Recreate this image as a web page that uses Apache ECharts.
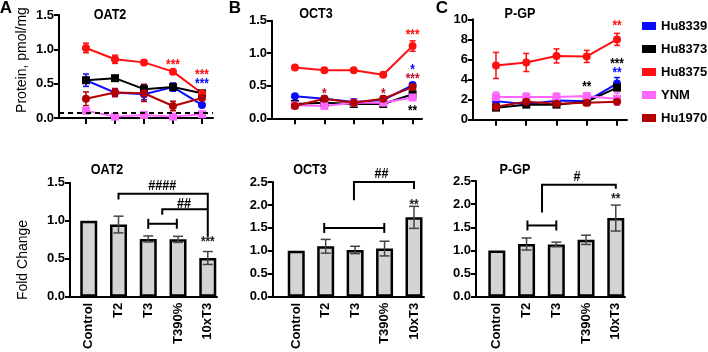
<!DOCTYPE html>
<html>
<head>
<meta charset="utf-8">
<script src="https://cdn.jsdelivr.net/npm/echarts@6/dist/echarts.min.js"></script>
<style>
html, body { margin: 0; padding: 0; background: #fff; }
#chart { width: 708px; height: 352px; }
</style>
</head>
<body>
<div id="chart"></div>
<script>
// ---- data ----
const categories = ['Control', 'T2', 'T3', 'T390%', '10xT3'];
const strains = ['Hu8339', 'Hu8373', 'Hu8375', 'YNM', 'Hu1970'];
const strainColors = ['#0a0aff', '#000000', '#ff1010', '#ff66ff', '#b30000'];

// protein, pmol/mg (rows follow strains)
const oat2Mean = [
  [0.55, 0.37, 0.345, 0.45, 0.19],
  [0.55, 0.58, 0.42, 0.45, 0.36],
  [1.02, 0.855, 0.81, 0.675, 0.36],
  [0.105, 0.02, 0.045, 0.02, 0.055],
  [0.28, 0.37, 0.36, 0.175, 0.29]
];
const oat2Err = [
  [0.09, 0.04, 0.08, 0.06, 0.02],
  [0.03, 0.02, 0.07, 0.03, 0.02],
  [0.07, 0.06, 0.03, 0.02, 0.02],
  [0.04, 0.01, 0.01, 0.01, 0.01],
  [0.1, 0.06, 0.12, 0.07, 0.02]
];
const oct3Mean = [
  [0.34, 0.30, 0.25, 0.28, 0.51],
  [0.22, 0.24, 0.22, 0.22, 0.37],
  [0.78, 0.74, 0.74, 0.67, 1.11],
  [0.20, 0.19, 0.24, 0.24, 0.32],
  [0.19, 0.30, 0.24, 0.30, 0.48]
];
const oct3Err = [
  [0.02, 0.04, 0.05, 0.03, 0.03],
  [0.02, 0.02, 0.02, 0.02, 0.03],
  [0.02, 0.02, 0.02, 0.02, 0.08],
  [0.02, 0.03, 0.02, 0.02, 0.03],
  [0.02, 0.03, 0.02, 0.04, 0.03]
];
const pgpMean = [
  [1.85, 1.55, 1.9, 1.85, 3.6],
  [1.2, 1.5, 1.5, 1.8, 3.2],
  [5.4, 5.7, 6.35, 6.3, 8.0],
  [2.25, 2.25, 2.25, 2.35, 2.05],
  [1.3, 1.8, 1.6, 1.7, 1.8]
];
const pgpErr = [
  [0.3, 0.2, 0.3, 0.2, 0.6],
  [0.2, 0.2, 0.2, 0.2, 0.3],
  [1.3, 0.9, 0.7, 0.6, 0.6],
  [0.5, 0.4, 0.4, 0.3, 0.6],
  [0.2, 0.3, 0.2, 0.3, 0.2]
];
const oat2Lloq = 0.08;

// fold change
const oat2Fold = [1.0, 0.95, 0.76, 0.755, 0.51];
const oat2FoldErr = [0, 0.11, 0.04, 0.04, 0.085];
const oct3Fold = [1.0, 1.1, 1.02, 1.05, 1.73];
const oct3FoldErr = [0, 0.15, 0.08, 0.16, 0.24];
const pgpFold = [1.0, 1.14, 1.13, 1.23, 1.70];
const pgpFoldErr = [0, 0.13, 0.05, 0.1, 0.28];

// significance marks: [category, value, text, color]
const oat2Marks = [[3, 0.81, '***', '#ff1010'], [4, 0.665, '***', '#ff1010'], [4, 0.54, '***', '#0a0aff']];
const oct3Marks = [[1, 0.42, '*', '#c01030'], [3, 0.42, '*', '#c01030'], [4, 1.33, '***', '#ff1010'],
  [4, 0.79, '*', '#0a0aff'], [4, 0.65, '***', '#c01030'], [4, 0.16, '**', '#000']];
const pgpMarks = [[3, 3.5, '**', '#000'], [4, 9.6, '**', '#ff1010'], [4, 5.8, '***', '#000'], [4, 4.9, '**', '#0a0aff']];
const oat2FoldMarks = [[4, 0.76, '***', '#222'], [2.47, 1.46, '####', '#000'], [3.2, 1.22, '##', '#000']];
const oct3FoldMarks = [[4, 2.07, '**', '#222'], [2.9, 2.67, '##', '#000']];
const pgpFoldMarks = [[4, 2.17, '**', '#222'], [2.7, 2.6, '#', '#000']];

// brackets: [x1, x2, y, leftEnd, rightEnd]
const oat2Brackets = [[1, 4, 1.355, 1.28, 0.79], [2.47, 4, 1.15, 1.08, 1.15]];
const oct3Brackets = [[1.96, 4, 2.5, 2.1, 2.35]];
const pgpBrackets = [[1.52, 4, 2.42, 1.82, 2.33]];
// capped brackets: [x1, x2, y]
const oat2Caps = [[2, 2.96, 0.96]];
const oct3Caps = [[0.95, 2.99, 1.5]];
const pgpCaps = [[1.03, 2.0, 1.54]];

// ---- layout ----
const fontBold = "'Liberation Sans',Arial,sans-serif";
const fontReg = "'Liberation Sans',Arial,sans-serif";
const narrow = 0.84; // the figure uses a condensed face, squeeze free text to match

const grids = [
  { left: 59, top: 15, width: 154, height: 103 },
  { left: 272, top: 20.7, width: 150, height: 97.6 },
  { left: 473, top: 19.3, width: 154, height: 100.4 },
  { left: 70, top: 182.7, width: 147, height: 117.3 },
  { left: 272.7, top: 182, width: 151.3, height: 117.3 },
  { left: 476, top: 181, width: 149, height: 117.3 }
];
const xRange = [[-0.93, 4.38], [-0.78, 4.32], [-0.76, 4.33], [-0.63, 4.31], [-0.80, 4.34], [-0.70, 4.31]];
const yRange = [[0, 1.5, 0.5], [0, 1.5, 0.5], [0, 10, 2], [0, 1.5, 0.5], [0, 2.5, 0.5], [0, 2.5, 0.5]];
const strainSymbols = ['circle', 'square', 'circle', 'square', 'circle'];

const axisLineStyle = { color: '#000', width: 2 };
const idx = categories.map((c, i) => i);

const xAxes = grids.map((g, i) => {
  const top = i < 3;
  return {
    gridIndex: i, type: 'value', min: xRange[i][0], max: xRange[i][1],
    axisLine: { show: true, onZero: false, lineStyle: axisLineStyle },
    axisTick: { show: top, length: 6, lineStyle: axisLineStyle, customValues: idx },
    axisLabel: top ? { show: false } : {
      show: true, customValues: idx, rotate: 90, margin: 6,
      formatter: v => categories[Math.round(v)],
      fontFamily: fontBold, fontWeight: 'bold', fontSize: 13, color: '#000'
    },
    splitLine: { show: false }
  };
});
const yAxes = grids.map((g, i) => ({
  gridIndex: i, type: 'value', min: yRange[i][0], max: yRange[i][1], interval: yRange[i][2],
  axisLine: { show: true, onZero: false, lineStyle: axisLineStyle },
  axisTick: { show: true, length: 5, lineStyle: axisLineStyle },
  axisLabel: {
    margin: 5, fontFamily: fontBold, fontWeight: 'bold', fontSize: 13, color: '#000',
    formatter: v => (i === 2 ? String(v) : v.toFixed(1))
  },
  splitLine: { show: false }
}));

// error bar drawing
function errRender(capW, width) {
  return function (params, api) {
    const x = api.value(0);
    const lo = api.coord([x, api.value(1)]);
    const hi = api.coord([x, api.value(2)]);
    const style = { stroke: api.visual('color'), lineWidth: width };
    return {
      type: 'group', children: [
        { type: 'line', shape: { x1: lo[0], y1: lo[1], x2: hi[0], y2: hi[1] }, style },
        { type: 'line', shape: { x1: lo[0] - capW, y1: lo[1], x2: lo[0] + capW, y2: lo[1] }, style },
        { type: 'line', shape: { x1: hi[0] - capW, y1: hi[1], x2: hi[0] + capW, y2: hi[1] }, style }
      ]
    };
  };
}

function markSeries(gi, marks) {
  return {
    type: 'custom', xAxisIndex: gi, yAxisIndex: gi, z: 10, silent: true,
    data: marks.map(m => [m[0], m[1]]),
    renderItem: (params, api) => {
      const m = marks[params.dataIndex];
      const p = api.coord([m[0], m[1]]);
      const star = m[2].indexOf('*') >= 0;
      return {
        type: 'text', x: p[0], y: p[1] + (star ? 3 : 0), scaleX: narrow,
        style: {
          text: m[2], fill: m[3], align: 'center', verticalAlign: 'middle',
          font: 'bold ' + (star ? 14 : 15) + 'px ' + fontBold
        }
      };
    }
  };
}

function bracketSeries(gi, brackets, caps) {
  const rows = brackets.map(b => ['b'].concat(b)).concat(caps.map(c => ['c'].concat(c)));
  return {
    type: 'custom', xAxisIndex: gi, yAxisIndex: gi, z: 9, silent: true,
    data: rows.map(r => [r[1], r[3]]),
    renderItem: (params, api) => {
      const r = rows[params.dataIndex];
      const style = { stroke: '#000', lineWidth: 2, fill: null };
      const a = api.coord([r[1], r[3]]);
      const b = api.coord([r[2], r[3]]);
      if (r[0] === 'b') {
        const l = api.coord([r[1], r[4]]);
        const e = api.coord([r[2], r[5]]);
        return { type: 'polyline', shape: { points: [[l[0], l[1]], a, b, [e[0], e[1]]] }, style };
      }
      return {
        type: 'group', children: [
          { type: 'line', shape: { x1: a[0], y1: a[1], x2: b[0], y2: b[1] }, style },
          { type: 'line', shape: { x1: a[0], y1: a[1] - 5, x2: a[0], y2: a[1] + 5 }, style },
          { type: 'line', shape: { x1: b[0], y1: b[1] - 5, x2: b[0], y2: b[1] + 5 }, style }
        ]
      };
    }
  };
}

const series = [];
const topSets = [[oat2Mean, oat2Err], [oct3Mean, oct3Err], [pgpMean, pgpErr]];
topSets.forEach((set, gi) => {
  strains.forEach((name, s) => {
    series.push({
      type: 'custom', name: name, xAxisIndex: gi, yAxisIndex: gi, silent: true,
      itemStyle: { color: strainColors[s] },
      renderItem: errRender(3, 1.5),
      data: idx.map(i => [i, set[0][s][i] - set[1][s][i], set[0][s][i] + set[1][s][i]])
    });
    series.push({
      type: 'line', name: name, xAxisIndex: gi, yAxisIndex: gi,
      symbol: strainSymbols[s], symbolSize: 8,
      itemStyle: { color: strainColors[s] },
      lineStyle: { color: strainColors[s], width: 2 },
      data: idx.map(i => [i, set[0][s][i]]),
      markLine: (gi === 0 && s === 1) ? {
        silent: true, symbol: 'none', label: { show: false },
        lineStyle: { color: '#000', type: [5, 4], width: 1.8 },
        data: [{ yAxis: oat2Lloq }]
      } : undefined
    });
  });
});

const foldSets = [[oat2Fold, oat2FoldErr], [oct3Fold, oct3FoldErr], [pgpFold, pgpFoldErr]];
foldSets.forEach((set, k) => {
  const gi = k + 3;
  series.push({
    type: 'bar', xAxisIndex: gi, yAxisIndex: gi, barWidth: 17,
    itemStyle: { color: '#d4d4d4', borderColor: '#000', borderWidth: 2.5 },
    data: idx.map(i => [i, set[0][i]])
  });
  series.push({
    type: 'custom', xAxisIndex: gi, yAxisIndex: gi, z: 5, silent: true,
    itemStyle: { color: '#444' },
    renderItem: errRender(5, 1.5),
    data: idx.filter(i => set[1][i] > 0).map(i => [i, set[0][i] - set[1][i], set[0][i] + set[1][i]])
  });
});

series.push(markSeries(0, oat2Marks), markSeries(1, oct3Marks), markSeries(2, pgpMarks));
series.push(markSeries(3, oat2FoldMarks), markSeries(4, oct3FoldMarks), markSeries(5, pgpFoldMarks));
series.push(bracketSeries(3, oat2Brackets, oat2Caps), bracketSeries(4, oct3Brackets, oct3Caps),
  bracketSeries(5, pgpBrackets, pgpCaps));

function label(text, x, y, size, bold, family, rot, sx) {
  return {
    type: 'text', x: x, y: y, rotation: rot || 0, scaleX: sx || 1, silent: true,
    style: {
      text: text, fill: '#000', align: 'center', verticalAlign: 'middle',
      font: (bold ? 'bold ' : '') + size + 'px ' + family
    }
  };
}

const graphics = [
  label('A', 6, 8, 17, true, fontReg),
  label('B', 235, 8, 17, true, fontReg),
  label('C', 442, 8, 17, true, fontReg),
  label('OAT2', 110, 15, 15, true, fontBold, 0, narrow),
  label('OCT3', 316, 14, 15, true, fontBold, 0, narrow),
  label('P-GP', 520, 14, 15, true, fontBold, 0, narrow),
  label('OAT2', 107, 170, 15, true, fontBold, 0, narrow),
  label('OCT3', 310, 170, 15, true, fontBold, 0, narrow),
  label('P-GP', 515, 170, 15, true, fontBold, 0, narrow),
  label('Protein, pmol/mg', 22, 60, 14, false, fontReg, Math.PI / 2),
  label('Fold Change', 23, 260, 14, false, fontReg, Math.PI / 2)
];

const chart = echarts.init(document.getElementById('chart'));
chart.setOption({
  animation: false,
  grid: grids,
  xAxis: xAxes,
  yAxis: yAxes,
  legend: {
    orient: 'vertical', left: 642, top: 18, padding: 0, icon: 'rect',
    itemWidth: 14, itemHeight: 8, itemGap: 7,
    data: strains,
    textStyle: { fontFamily: fontBold, fontWeight: 'bold', fontSize: 13, color: '#000', lineHeight: 16 }
  },
  graphic: graphics,
  series: series
});
</script>
</body>
</html>
